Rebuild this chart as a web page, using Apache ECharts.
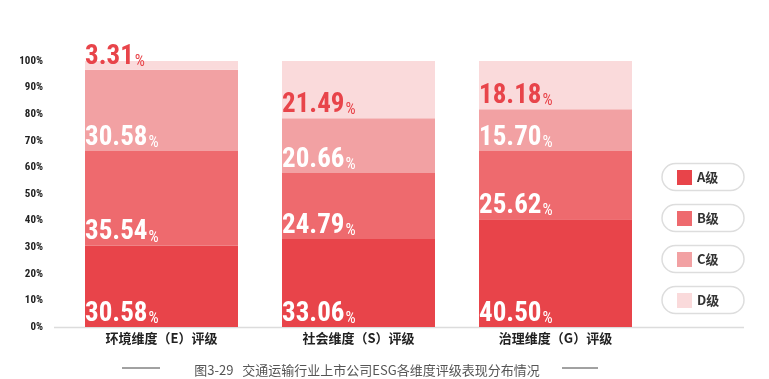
<!DOCTYPE html>
<html><head><meta charset="utf-8">
<script src="https://cdn.jsdelivr.net/npm/echarts@6/dist/echarts.min.js"></script>
<style>html,body{margin:0;padding:0;background:#fff}#c{width:769px;height:379px}</style>
</head><body><div id="c"></div>
<script>
var categories = ['环境维度（E）评级', '社会维度（S）评级', '治理维度（G）评级'];
var seriesNames = ['A级', 'B级', 'C级', 'D级'];
var gradeA = [30.58, 33.06, 40.50];
var gradeB = [35.54, 24.79, 25.62];
var gradeC = [30.58, 20.66, 15.70];
var gradeD = [3.31, 21.49, 18.18];
var yTicks = [0, 100, 10];
var titleText = '图3-29   交通运输行业上市公司ESG各维度评级表现分布情况';

var colors = ['#E8444A', '#EE6A6E', '#F2A1A3', '#FADADB'];
var labelColors = ['#ffffff', '#ffffff', '#ffffff', '#E8444A'];

// pick an installed narrow font
var cv = document.createElement('canvas').getContext('2d');
function w(f) { cv.font = 'bold 100px ' + f; return cv.measureText('30.58%').width; }
var base1 = w('monospace'), base2 = w('serif');
var cands = ['Roboto Condensed', 'Liberation Sans Narrow', 'Arial Narrow', 'DejaVu Sans Condensed'];
var narrow = null;
for (var ci = 0; ci < cands.length; ci++) {
  var ww = w('"' + cands[ci] + '",monospace'), ws = w('"' + cands[ci] + '",serif');
  if (ww !== base1 && ws !== base2) { narrow = cands[ci]; break; }
}
var numFont = narrow ? '"' + narrow + '",sans-serif' : 'sans-serif';
var bigSize = 27;
var axSize = 11;

var chart = echarts.init(document.getElementById('c'));
var series = [gradeA, gradeB, gradeC, gradeD].map(function (d, i) {
  return {
    name: seriesNames[i], type: 'bar', stack: 'total', barWidth: 153,
    itemStyle: { color: colors[i] },
    data: d,
    label: {
      show: true, position: 'insideBottomLeft', distance: 0, offset: [0, 1],
      formatter: function (p) { return '{n|' + p.value.toFixed(2) + '}{p|%}'; },
      rich: {
        n: { fontFamily: numFont, fontWeight: 'bold', fontSize: bigSize, color: labelColors[i], lineHeight: 28 },
        p: { fontFamily: numFont, fontWeight: 'normal', fontSize: 16, color: labelColors[i], lineHeight: 28, verticalAlign: 'bottom', padding: [0, 0, 1, 1] }
      }
    }
  };
});

var g = [];
for (var k = 0; k < 4; k++) {
  g.push({ type: 'rect', shape: { x: 662, y: 163.5 + k * 41, width: 82, height: 27, r: 13.5 },
    style: { fill: '#fff', stroke: '#dddddd', lineWidth: 1.5 }, z: -1 });
}
g.push({ type: 'line', shape: { x1: 54, y1: 327.5, x2: 744, y2: 327.5 }, style: { stroke: '#dcdcdc', lineWidth: 1.5 }, z: -1 });
g.push({ type: 'line', shape: { x1: 122, y1: 368, x2: 160, y2: 368 }, style: { stroke: '#444', lineWidth: 1 } });
g.push({ type: 'line', shape: { x1: 562, y1: 368, x2: 598, y2: 368 }, style: { stroke: '#444', lineWidth: 1 } });

chart.setOption({
  animation: false,
  title: { text: titleText, left: 362, textAlign: 'center', top: 359,
    textStyle: { fontSize: 13, fontWeight: 'normal', color: '#555', fontFamily: '"Noto Sans CJK SC",sans-serif' } },
  legend: { orient: 'vertical', left: 677, top: 170, padding: 0, itemWidth: 15, itemHeight: 15, itemGap: 26,
    icon: 'rect', data: seriesNames,
    textStyle: { fontSize: 13, color: '#333', fontWeight: 'bold', lineHeight: 15, fontFamily: '"Noto Sans CJK SC",sans-serif' } },
  grid: { left: 63, right: 115, top: 61, bottom: 52 },
  xAxis: { type: 'category', data: categories,
    axisLine: { show: false }, axisTick: { show: false },
    axisLabel: { margin: 5, fontSize: 13, fontWeight: 'bold', color: '#222', fontFamily: '"Noto Sans CJK SC",sans-serif' } },
  yAxis: { type: 'value', min: yTicks[0], max: yTicks[1], interval: yTicks[2],
    splitLine: { show: false }, axisLine: { show: false }, axisTick: { show: false },
    axisLabel: { margin: 20, formatter: '{value}%', fontFamily: numFont, fontWeight: 'bold', fontSize: axSize, color: '#222' } },
  graphic: g,
  series: series
});
</script></body></html>
